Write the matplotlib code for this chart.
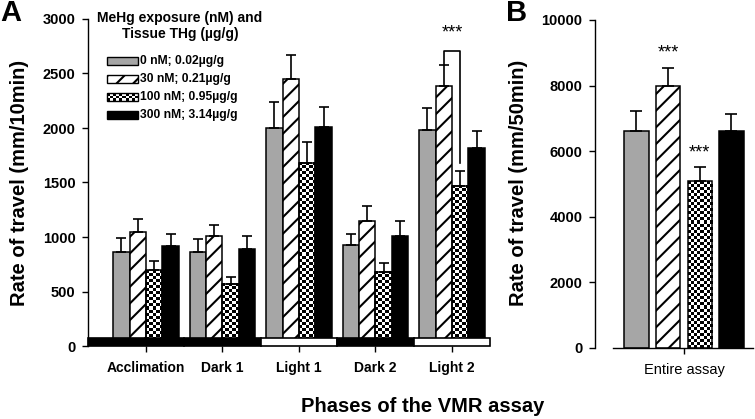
import numpy as np
import matplotlib.pyplot as plt
from matplotlib.patches import Rectangle

plt.rcParams['font.family'] = ['Liberation Sans', 'DejaVu Sans']
plt.rcParams['font.weight'] = 'bold'
plt.rcParams['hatch.linewidth'] = 1.5

# --- data ---
phases = ["Acclimation", "Dark 1", "Light 1", "Dark 2", "Light 2"]
groups = ["0 nM; 0.02µg/g", "30 nM; 0.21µg/g", "100 nM; 0.95µg/g", "300 nM; 3.14µg/g"]

mean_0 = [865, 865, 1997, 927, 1982]
mean_30 = [1043, 1006, 2447, 1150, 2385]
mean_100 = [697, 572, 1682, 679, 1468]
mean_300 = [915, 890, 2006, 1009, 1814]

err_0 = [129, 117, 242, 98, 205]
err_30 = [122, 107, 223, 137, 193]
err_100 = [86, 64, 187, 85, 138]
err_300 = [110, 119, 184, 135, 161]

total_mean = [6613, 7995, 5078, 6613]
total_err = [601, 550, 446, 519]

W, H = 755, 419
GRAY = '#a6a6a6'
styles = ['gray', 'hatch', 'checker', 'black']

fig = plt.figure(figsize=(W / 100, H / 100), dpi=100)
axA = fig.add_axes([88 / W, 73 / H, (491 - 88) / W, (346 - 19) / H])
axB = fig.add_axes([595 / W, (H - 347.7) / H, (753 - 595) / W, (347.7 - 20) / H])
over = fig.add_axes([0, 0, 1, 1])
over.set_xlim(0, W)
over.set_ylim(H, 0)
over.axis('off')


def checker(ax, x0, x1, y0, y1, cell=3.0, z=1.9):
    p0 = ax.transData.transform((x0, y0))
    p1 = ax.transData.transform((x1, y1))
    nx = max(1, int(round(abs(p1[0] - p0[0]) / cell)))
    ny = max(1, int(round(abs(p1[1] - p0[1]) / cell)))
    board = np.indices((ny, nx)).sum(axis=0) % 2
    ax.imshow(board, extent=(min(x0, x1), max(x0, x1), min(y0, y1), max(y0, y1)),
              origin='lower', cmap='gray', vmin=0, vmax=1,
              interpolation='nearest', aspect='auto', zorder=z)


def draw_bars(ax, xs, means, errs, style, width, cap):
    if style == 'gray':
        bars = ax.bar(xs, means, width, color=GRAY, edgecolor='black', lw=1.1, zorder=2)
    elif style == 'hatch':
        bars = ax.bar(xs, means, width, color='white', edgecolor='black', lw=1.1,
                      hatch='//', zorder=2)
    elif style == 'black':
        bars = ax.bar(xs, means, width, color='black', edgecolor='black', lw=1.1, zorder=2)
    else:
        bars = ax.bar(xs, means, width, facecolor='none', edgecolor='black', lw=1.1, zorder=2)
        for b in bars:
            checker(ax, b.get_x(), b.get_x() + b.get_width(), 0, b.get_height())
    ax.errorbar(xs, means, yerr=[np.zeros(len(means)), errs], fmt='none',
                ecolor='black', elinewidth=1.2, capsize=cap, capthick=1.2, zorder=3)
    return bars


# ---------------- panel A ----------------
xA = np.arange(len(phases))
bw = 0.215
axA.set_xlim(-0.758, 4.51)
axA.set_ylim(0, 3000)

means_A = [mean_0, mean_30, mean_100, mean_300]
errs_A = [err_0, err_30, err_100, err_300]
for i in range(4):
    draw_bars(axA, xA + (i - 1.5) * bw, means_A[i], errs_A[i], styles[i], bw, 3.6)

# light / dark strip along the axis
strip_h = 75
left = axA.get_xlim()[0]
for k, ph in enumerate(phases):
    x0 = left if k == 0 else k - 0.5
    x1 = k + 0.5
    fc = 'white' if ph.startswith('Light') else 'black'
    axA.add_patch(Rectangle((x0, 0), x1 - x0, strip_h, facecolor=fc, edgecolor='black',
                            lw=1.2, zorder=4, clip_on=False))

# significance bracket in Light 2
xl = 4 + (1 - 1.5) * bw
xr = 4 + (2 - 1.5) * bw
axA.plot([xl, xl, xr, xr], [mean_30[4] + err_30[4], 2709, 2709, 1676],
         color='black', lw=1.2, zorder=3)
axA.text((xl + xr) / 2, 2870, '***', ha='center', va='center', fontsize=13,
         fontweight='normal')

axA.set_xticks(xA, phases)
axA.set_yticks(np.arange(0, 3001, 500))
axA.tick_params(axis='x', length=4, width=1, pad=7, labelsize=10)
axA.tick_params(axis='y', length=4.5, width=1, pad=4.5, labelsize=10.5)
for s in ['top', 'right', 'bottom']:
    axA.spines[s].set_visible(False)
axA.spines['left'].set_linewidth(1)
axA.set_xlim(-0.758, 4.51)
axA.set_ylim(0, 3000)

# ---------------- panel B ----------------
xB = np.arange(4) - 1.5
axB.set_xlim(-2.81, 2.18)
axB.set_ylim(0, 10000)
for i in range(4):
    draw_bars(axB, [xB[i]], [total_mean[i]], [total_err[i]], styles[i], 0.77, 4)
axB.text(xB[1], 8980, '***', ha='center', va='center', fontsize=13, fontweight='normal')
axB.text(xB[2], 5950, '***', ha='center', va='center', fontsize=13, fontweight='normal')

axB.set_xticks([0], ['Entire assay'])
axB.set_yticks(np.arange(0, 10001, 2000))
axB.tick_params(axis='x', length=4, width=1, pad=7, labelsize=10.5)
for lab in axB.get_xticklabels():
    lab.set_fontweight('normal')
axB.tick_params(axis='y', length=4.5, width=1, pad=4.5, labelsize=10.5)
for s in ['top', 'right']:
    axB.spines[s].set_visible(False)
axB.spines['left'].set_linewidth(1)
axB.spines['bottom'].set_linewidth(1)
axB.spines['bottom'].set_bounds(-2.24, 2.18)
axB.set_xlim(-2.81, 2.18)
axB.set_ylim(0, 10000)

# ---------------- labels ----------------
over.text(20, 183, 'Rate of travel (mm/10min)', rotation=90, ha='center', va='center',
          fontsize=14.5)
over.text(518, 183, 'Rate of travel (mm/50min)', rotation=90, ha='center', va='center',
          fontsize=14.5)
over.text(423, 406, 'Phases of the VMR assay', ha='center', va='center', fontsize=14.5)
over.text(0, 13, 'A', ha='left', va='center', fontsize=21)
over.text(506, 13, 'B', ha='left', va='center', fontsize=21)

# ---------------- legend (drawn by hand) ----------------
over.text(180, 26, 'MeHg exposure (nM) and\nTissue THg (µg/g)', ha='center', va='center',
          fontsize=10, linespacing=1.2)
rows = [61.2, 79, 96.7, 114.7]
for i, y in enumerate(rows):
    x0, x1, h = 107, 138, 7.7
    if styles[i] == 'gray':
        over.add_patch(Rectangle((x0, y - h / 2), x1 - x0, h, facecolor=GRAY,
                                 edgecolor='black', lw=1))
    elif styles[i] == 'hatch':
        over.add_patch(Rectangle((x0, y - h / 2), x1 - x0, h, facecolor='white',
                                 edgecolor='black', lw=1, hatch='//'))
    elif styles[i] == 'black':
        over.add_patch(Rectangle((x0, y - h / 2), x1 - x0, h, facecolor='black',
                                 edgecolor='black', lw=1))
    else:
        checker(over, x0, x1, y - h / 2, y + h / 2, z=1)
        over.add_patch(Rectangle((x0, y - h / 2), x1 - x0, h, facecolor='none',
                                 edgecolor='black', lw=1, zorder=2))
    over.text(140, y, groups[i], ha='left', va='center', fontsize=8.7)
over.set_xlim(0, W)
over.set_ylim(H, 0)

fig.savefig('out.png', dpi=100)
